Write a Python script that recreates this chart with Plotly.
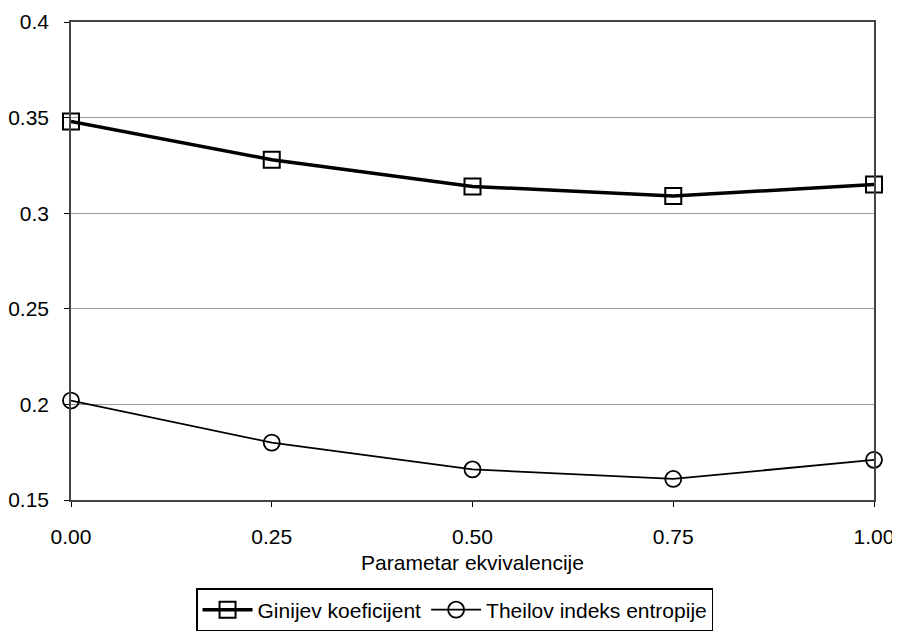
import plotly.graph_objects as go

x_labels = ["0.00", "0.25", "0.50", "0.75", "1.00"]
x_vals = [0.0, 0.25, 0.5, 0.75, 1.0]
gini = [0.348, 0.328, 0.314, 0.309, 0.315]
theil = [0.202, 0.180, 0.166, 0.161, 0.171]
y_ticks = [0.15, 0.2, 0.25, 0.3, 0.35, 0.4]
y_tick_labels = ["0.15", "0.2", "0.25", "0.3", "0.35", "0.4"]

font = "Liberation Sans, Arial, sans-serif"

fig = go.Figure()
fig.add_trace(go.Scatter(
    x=x_vals, y=gini, mode="lines+markers", name="Ginijev koeficijent",
    line=dict(color="black", width=3.5),
    marker=dict(symbol="square-open", size=16, color="black", line=dict(width=2)),
    cliponaxis=False,
))
fig.add_trace(go.Scatter(
    x=x_vals, y=theil, mode="lines+markers", name="Theilov indeks entropije",
    line=dict(color="black", width=1.8),
    marker=dict(symbol="circle-open", size=16, color="black", line=dict(width=1.8)),
    cliponaxis=False,
))

# page body has an 8px margin, so the figure is shifted by 8px; compensate
fig.update_layout(
    width=892, height=626,
    margin=dict(l=63, r=26, t=14, b=134),
    paper_bgcolor="white", plot_bgcolor="white",
    font=dict(family=font, size=21, color="black"),
    showlegend=True,
    legend=dict(
        orientation="h", x=0.478, xanchor="center",
        yref="container", y=0.073, yanchor="top",
        bordercolor="black", borderwidth=1.2, font=dict(size=21),
        tracegroupgap=0, itemwidth=50,
    ),
    xaxis=dict(
        range=[0, 1], tickmode="array", tickvals=x_vals, ticktext=x_labels,
        ticks="outside", ticklen=5, tickcolor="black", automargin=False,
        ticklabelstandoff=12,
        showline=True, linecolor="#444", linewidth=1.5, mirror=True,
        showgrid=False, zeroline=False,
        title=dict(text="Parametar ekvivalencije", standoff=8, font=dict(size=21)),
    ),
    yaxis=dict(
        range=[0.15, 0.4], tickmode="array", tickvals=y_ticks, ticktext=y_tick_labels,
        ticks="outside", ticklen=5, tickcolor="black", automargin=False,
        ticklabelstandoff=11,
        showline=True, linecolor="#444", linewidth=1.5, mirror=True,
        showgrid=True, gridcolor="#999", gridwidth=1, zeroline=False,
    ),
)

fig.write_html("out.html")
